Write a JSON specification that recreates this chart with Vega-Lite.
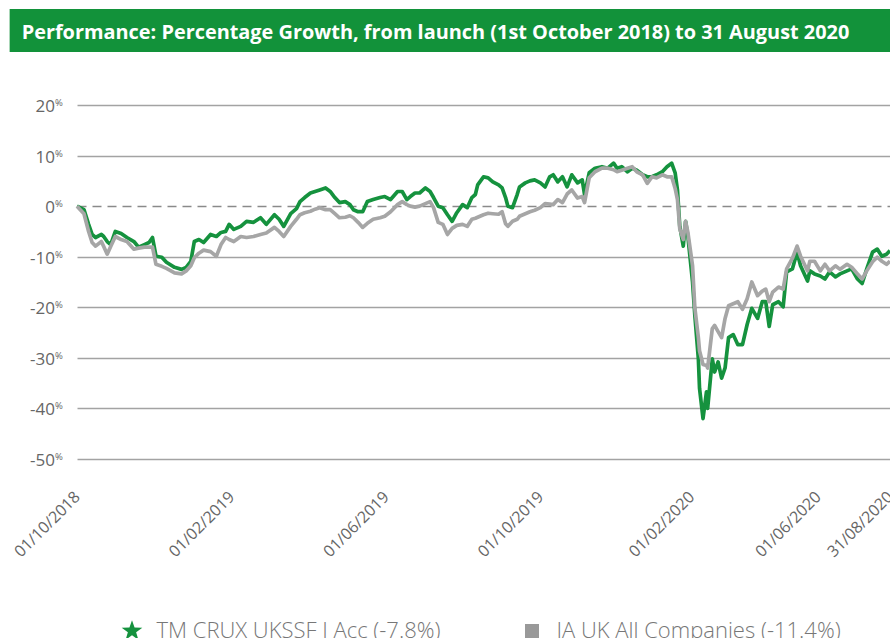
{
  "$schema": "https://vega.github.io/schema/vega-lite/v6.json",
  "width": 813,
  "height": 354,
  "autosize": {"type": "none"},
  "padding": {"left": 77, "top": 105, "right": 0, "bottom": 179},
  "background": "white",
  "title": {
    "text": "Performance: Percentage Growth, from launch (1st October 2018) to 31 August 2020",
    "anchor": "start", "frame": "bounds", "orient": "top", "offset": 0,
    "baseline": "alphabetic", "dx": 12, "dy": 50,
    "font": "Open Sans", "fontSize": 19.9, "fontWeight": "bold", "color": "#ffffff"
  },
  "config": {"view": {"stroke": null}, "font": "Open Sans"},
  "data": {
    "format": {"parse": {"d": "date:'%Y-%m-%d'"}},
    "values": [
      {"d":"2018-10-01","tm":0,"ia":0},
      {"d":"2018-10-07","tm":-0.7,"ia":-1.5},
      {"d":"2018-10-11","tm":-3.6,"ia":-5},
      {"d":"2018-10-14","tm":-5.6,"ia":-7.2},
      {"d":"2018-10-17","tm":-6.2,"ia":-7.9},
      {"d":"2018-10-22","tm":-5.6,"ia":-7},
      {"d":"2018-10-24","tm":-6,"ia":-8},
      {"d":"2018-10-27","tm":-7,"ia":-9.5},
      {"d":"2018-10-30","tm":-7.6,"ia":-8},
      {"d":"2018-11-03","tm":-5,"ia":-6},
      {"d":"2018-11-08","tm":-5.4,"ia":-6.6},
      {"d":"2018-11-13","tm":-6.2,"ia":-7},
      {"d":"2018-11-19","tm":-7,"ia":-8.5},
      {"d":"2018-11-23","tm":-8.1,"ia":-8.3},
      {"d":"2018-11-28","tm":-7.6,"ia":-8.1},
      {"d":"2018-12-02","tm":-7.2,"ia":-8.1},
      {"d":"2018-12-05","tm":-6.2,"ia":-8.1},
      {"d":"2018-12-08","tm":-9.9,"ia":-11.5},
      {"d":"2018-12-13","tm":-10.1,"ia":-11.9},
      {"d":"2018-12-17","tm":-11.1,"ia":-12.3},
      {"d":"2018-12-24","tm":-12.1,"ia":-13.2},
      {"d":"2018-12-30","tm":-12.5,"ia":-13.4},
      {"d":"2019-01-03","tm":-12.1,"ia":-12.8},
      {"d":"2019-01-07","tm":-10.9,"ia":-11.8},
      {"d":"2019-01-10","tm":-7,"ia":-10.2},
      {"d":"2019-01-14","tm":-6.6,"ia":-9.3},
      {"d":"2019-01-18","tm":-7.2,"ia":-8.7},
      {"d":"2019-01-24","tm":-5.6,"ia":-9},
      {"d":"2019-01-29","tm":-6,"ia":-9.9},
      {"d":"2019-02-02","tm":-5.2,"ia":-7.6},
      {"d":"2019-02-06","tm":-5,"ia":-6.2},
      {"d":"2019-02-09","tm":-3.6,"ia":-6.6},
      {"d":"2019-02-13","tm":-4.6,"ia":-7},
      {"d":"2019-02-19","tm":-4,"ia":-6},
      {"d":"2019-02-24","tm":-3,"ia":-6.2},
      {"d":"2019-03-02","tm":-3.2,"ia":-6},
      {"d":"2019-03-08","tm":-2.3,"ia":-5.6},
      {"d":"2019-03-13","tm":-3.6,"ia":-5.3},
      {"d":"2019-03-20","tm":-1.7,"ia":-4.2},
      {"d":"2019-03-24","tm":-2.6,"ia":-5},
      {"d":"2019-03-28","tm":-4,"ia":-6},
      {"d":"2019-04-03","tm":-1.5,"ia":-4},
      {"d":"2019-04-08","tm":-0.5,"ia":-2.6},
      {"d":"2019-04-11","tm":0.9,"ia":-1.7},
      {"d":"2019-04-15","tm":1.7,"ia":-1.3},
      {"d":"2019-04-20","tm":2.6,"ia":-1},
      {"d":"2019-04-24","tm":2.9,"ia":-0.6},
      {"d":"2019-04-28","tm":3.2,"ia":-0.3},
      {"d":"2019-05-03","tm":3.6,"ia":-0.7},
      {"d":"2019-05-07","tm":2.9,"ia":-0.7},
      {"d":"2019-05-11","tm":1.7,"ia":-1.5},
      {"d":"2019-05-15","tm":0.7,"ia":-2.3},
      {"d":"2019-05-20","tm":0.9,"ia":-2.2},
      {"d":"2019-05-24","tm":0.3,"ia":-1.9},
      {"d":"2019-05-27","tm":-0.7,"ia":-2.3},
      {"d":"2019-05-31","tm":-1.1,"ia":-3.2},
      {"d":"2019-06-04","tm":-1.1,"ia":-4.2},
      {"d":"2019-06-08","tm":0.9,"ia":-3.4},
      {"d":"2019-06-13","tm":1.3,"ia":-2.6},
      {"d":"2019-06-19","tm":1.7,"ia":-2.3},
      {"d":"2019-06-23","tm":1.9,"ia":-2},
      {"d":"2019-06-28","tm":1.3,"ia":-1.1},
      {"d":"2019-07-04","tm":2.9,"ia":0.3},
      {"d":"2019-07-08","tm":2.9,"ia":0.9},
      {"d":"2019-07-12","tm":1.3,"ia":0.3},
      {"d":"2019-07-15","tm":1.9,"ia":0},
      {"d":"2019-07-19","tm":2.6,"ia":-0.2},
      {"d":"2019-07-23","tm":2.6,"ia":0},
      {"d":"2019-07-28","tm":3.6,"ia":0.5},
      {"d":"2019-08-01","tm":2.9,"ia":0.9},
      {"d":"2019-08-04","tm":1.7,"ia":-0.3},
      {"d":"2019-08-08","tm":0,"ia":-3.2},
      {"d":"2019-08-12","tm":-0.3,"ia":-3.6},
      {"d":"2019-08-16","tm":-1.7,"ia":-5.6},
      {"d":"2019-08-20","tm":-3,"ia":-4.4},
      {"d":"2019-08-24","tm":-1.3,"ia":-3.8},
      {"d":"2019-08-29","tm":0.3,"ia":-3.6},
      {"d":"2019-09-02","tm":-0.3,"ia":-4},
      {"d":"2019-09-06","tm":1.7,"ia":-2.6},
      {"d":"2019-09-09","tm":2.3,"ia":-2.4},
      {"d":"2019-09-11","tm":4.2,"ia":-2.2},
      {"d":"2019-09-16","tm":5.8,"ia":-1.7},
      {"d":"2019-09-20","tm":5.6,"ia":-1.4},
      {"d":"2019-09-24","tm":4.8,"ia":-1.5},
      {"d":"2019-09-29","tm":4.2,"ia":-1.6},
      {"d":"2019-10-02","tm":3.6,"ia":-1.1},
      {"d":"2019-10-05","tm":1.7,"ia":-3.5},
      {"d":"2019-10-07","tm":0,"ia":-4},
      {"d":"2019-10-11","tm":-0.3,"ia":-3},
      {"d":"2019-10-15","tm":2.3,"ia":-2.6},
      {"d":"2019-10-17","tm":3.8,"ia":-2},
      {"d":"2019-10-22","tm":4.6,"ia":-1.5},
      {"d":"2019-10-26","tm":5,"ia":-1.1},
      {"d":"2019-10-30","tm":5.2,"ia":-0.8},
      {"d":"2019-11-04","tm":4.6,"ia":-0.3},
      {"d":"2019-11-08","tm":3.8,"ia":0.5},
      {"d":"2019-11-12","tm":5.8,"ia":0.4},
      {"d":"2019-11-15","tm":6.2,"ia":0.3},
      {"d":"2019-11-19","tm":4.8,"ia":1.3},
      {"d":"2019-11-23","tm":5.8,"ia":0.7},
      {"d":"2019-11-27","tm":3.8,"ia":2.4},
      {"d":"2019-12-01","tm":6.2,"ia":3.2},
      {"d":"2019-12-06","tm":4.6,"ia":1.6},
      {"d":"2019-12-10","tm":5.2,"ia":1.9},
      {"d":"2019-12-12","tm":2.3,"ia":0.7},
      {"d":"2019-12-16","tm":6.6,"ia":5.6},
      {"d":"2019-12-21","tm":7.5,"ia":6.8},
      {"d":"2019-12-27","tm":7.8,"ia":7.5},
      {"d":"2020-01-01","tm":7.5,"ia":7.5},
      {"d":"2020-01-06","tm":8.5,"ia":7.2},
      {"d":"2020-01-09","tm":7.5,"ia":6.8},
      {"d":"2020-01-13","tm":7.8,"ia":7.1},
      {"d":"2020-01-18","tm":6.8,"ia":7.5},
      {"d":"2020-01-22","tm":7.5,"ia":7.8},
      {"d":"2020-01-26","tm":7.1,"ia":6.8},
      {"d":"2020-01-31","tm":6.2,"ia":6.2},
      {"d":"2020-02-04","tm":5.8,"ia":4.5},
      {"d":"2020-02-08","tm":5.8,"ia":5.8},
      {"d":"2020-02-12","tm":6.2,"ia":5.6},
      {"d":"2020-02-17","tm":6.8,"ia":6.2},
      {"d":"2020-02-21","tm":7.8,"ia":5.8},
      {"d":"2020-02-25","tm":8.5,"ia":5.8},
      {"d":"2020-02-28","tm":6.6,"ia":3.5},
      {"d":"2020-03-01","tm":3.2,"ia":1.3},
      {"d":"2020-03-03","tm":-4,"ia":-4.5},
      {"d":"2020-03-06","tm":-7.9,"ia":-6.6},
      {"d":"2020-03-08","tm":-3,"ia":-3},
      {"d":"2020-03-10","tm":-6,"ia":-5.2},
      {"d":"2020-03-14","tm":-15,"ia":-11.8},
      {"d":"2020-03-16","tm":-21.7,"ia":-20.2},
      {"d":"2020-03-19","tm":-30.2,"ia":-26},
      {"d":"2020-03-20","tm":-36,"ia":-28.6},
      {"d":"2020-03-23","tm":-42,"ia":-31.3},
      {"d":"2020-03-26","tm":-36.7,"ia":-31.5},
      {"d":"2020-03-27","tm":-40,"ia":-32},
      {"d":"2020-03-31","tm":-30.2,"ia":-24.2},
      {"d":"2020-04-02","tm":-32.8,"ia":-23.6},
      {"d":"2020-04-05","tm":-30.8,"ia":-24.8},
      {"d":"2020-04-08","tm":-34,"ia":-26},
      {"d":"2020-04-11","tm":-32,"ia":-22.2},
      {"d":"2020-04-14","tm":-26,"ia":-19.7},
      {"d":"2020-04-18","tm":-25.4,"ia":-19.3},
      {"d":"2020-04-22","tm":-27.4,"ia":-18.9},
      {"d":"2020-04-26","tm":-27.4,"ia":-20.4},
      {"d":"2020-04-30","tm":-23.4,"ia":-18.3},
      {"d":"2020-05-04","tm":-20.2,"ia":-15},
      {"d":"2020-05-09","tm":-22.2,"ia":-17.7},
      {"d":"2020-05-13","tm":-18.9,"ia":-16.8},
      {"d":"2020-05-16","tm":-18.9,"ia":-16.4},
      {"d":"2020-05-19","tm":-23.8,"ia":-18.9},
      {"d":"2020-05-22","tm":-19.5,"ia":-17},
      {"d":"2020-05-27","tm":-18.9,"ia":-16},
      {"d":"2020-05-31","tm":-19.9,"ia":-16.4},
      {"d":"2020-06-03","tm":-13,"ia":-12.4},
      {"d":"2020-06-08","tm":-12.4,"ia":-10.3},
      {"d":"2020-06-12","tm":-9.1,"ia":-7.9},
      {"d":"2020-06-15","tm":-11.8,"ia":-9.9},
      {"d":"2020-06-21","tm":-14.8,"ia":-12.8},
      {"d":"2020-06-23","tm":-12.8,"ia":-10.9},
      {"d":"2020-06-27","tm":-13.4,"ia":-10.9},
      {"d":"2020-07-02","tm":-13.8,"ia":-12.8},
      {"d":"2020-07-06","tm":-14.4,"ia":-11.5},
      {"d":"2020-07-10","tm":-13,"ia":-12.8},
      {"d":"2020-07-15","tm":-14,"ia":-11.8},
      {"d":"2020-07-19","tm":-13.4,"ia":-12.5},
      {"d":"2020-07-25","tm":-12.8,"ia":-11.5},
      {"d":"2020-07-29","tm":-12.4,"ia":-12.1},
      {"d":"2020-08-03","tm":-14.4,"ia":-13.4},
      {"d":"2020-08-07","tm":-15.3,"ia":-14.4},
      {"d":"2020-08-11","tm":-12.4,"ia":-12.8},
      {"d":"2020-08-16","tm":-9.1,"ia":-11},
      {"d":"2020-08-20","tm":-8.5,"ia":-10.1},
      {"d":"2020-08-24","tm":-9.9,"ia":-10.9},
      {"d":"2020-08-28","tm":-9.5,"ia":-11.5},
      {"d":"2020-08-31","tm":-8.8,"ia":-10.9}
    ]
  },
  "resolve": {"axis": {"x": "independent", "y": "independent"}},
  "layer": [
    {
      "data": {"values": [{}]},
      "mark": {"type": "rect", "color": "#12923a"},
      "encoding": {
        "x": {"datum": {"year": 2018, "month": 8, "date": 4}, "type": "temporal", "axis": null},
        "x2": {"datum": {"year": 2020, "month": 9, "date": 20}},
        "y": {"datum": 38.98, "type": "quantitative", "axis": null},
        "y2": {"datum": 30.48}
      }
    },
    {
      "mark": {"type": "line", "strokeWidth": 3.7, "strokeJoin": "round", "color": "#15923e"},
      "encoding": {
        "x": {
          "field": "d", "type": "temporal",
          "scale": {"domain": [{"year": 2018, "month": 10, "date": 1}, {"year": 2020, "month": 8, "date": 31}]},
          "axis": {
            "values": [
              {"year": 2018, "month": 10, "date": 1},
              {"year": 2019, "month": 2, "date": 11},
              {"year": 2019, "month": 6, "date": 24},
              {"year": 2019, "month": 11, "date": 4},
              {"year": 2020, "month": 3, "date": 13},
              {"year": 2020, "month": 6, "date": 30},
              {"year": 2020, "month": 8, "date": 31}
            ],
            "labelExpr": "{'2018-10':'01/10/2018','2019-02':'01/02/2019','2019-06':'01/06/2019','2019-11':'01/10/2019','2020-03':'01/02/2020','2020-06':'01/06/2020','2020-08':'31/08/2020'}[timeFormat(datum.value,'%Y-%m')]",
            "labelAngle": -45, "labelAlign": "right", "labelBaseline": "middle",
            "labelPadding": 35, "labelFontSize": 16, "labelColor": "#666666", "labelFont": "Open Sans",
            "labelFlush": false, "labelOverlap": false, "labelBound": false, "labelLimit": 300,
            "domain": false, "ticks": false, "grid": false, "title": null
          }
        },
        "y": {
          "field": "tm", "type": "quantitative",
          "scale": {"domain": [-50, 20], "nice": false, "zero": false},
          "axis": {
            "orient": "left",
            "values": [-50, -40, -30, -20, -10, 0, 10, 20],
            "labelExpr": "'' + datum.value",
            "labelAlign": "right", "labelBaseline": "alphabetic", "labelOffset": 6.5,
            "labelPadding": 22.5, "labelFontSize": 17, "labelColor": "#666666", "labelFont": "Open Sans",
            "labelFlush": false, "labelOverlap": false,
            "domain": false, "ticks": false, "title": null,
            "grid": true, "gridWidth": 1.3,
            "gridColor": {"condition": {"test": "datum.value === 0", "value": "#8a8a8a"}, "value": "#a3a3a3"},
            "gridDash": {"condition": {"test": "datum.value === 0", "value": [9, 6]}, "value": []}
          }
        }
      }
    },
    {
      "mark": {"type": "line", "strokeWidth": 3.7, "strokeJoin": "round", "color": "#a6a6a6"},
      "encoding": {
        "x": {"field": "d", "type": "temporal", "axis": null},
        "y": {"field": "ia", "type": "quantitative", "axis": null}
      }
    },
    {
      "transform": [{"fold": ["tm", "ia"], "as": ["s", "v"]}],
      "mark": {"type": "point", "filled": true, "opacity": 0},
      "encoding": {
        "x": {"field": "d", "type": "temporal", "axis": null},
        "y": {
          "field": "v", "type": "quantitative",
          "axis": {
            "orient": "left",
            "values": [-50, -40, -30, -20, -10, 0, 10, 20],
            "labelExpr": "'%'",
            "labelAlign": "left", "labelBaseline": "alphabetic", "labelOffset": 0.5,
            "labelPadding": 22.5, "labelFontSize": 9.5, "labelColor": "#666666", "labelFont": "Open Sans",
            "labelFlush": false, "labelOverlap": false,
            "domain": false, "ticks": false, "grid": false, "title": null
          }
        },
        "color": {
          "field": "s", "type": "nominal",
          "scale": {"domain": ["tm", "ia"], "range": ["#15923e", "#999999"]},
          "legend": {
            "orient": "none", "legendX": 44, "legendY": 515, "direction": "horizontal",
            "title": null, "padding": 0,
            "labelExpr": "datum.value === 'tm' ? 'TM CRUX UKSSF I Acc (-7.8%)' : 'IA UK All Companies (-11.4%)'",
            "labelFont": "Open Sans", "labelFontSize": 22, "labelFontWeight": 300, "labelColor": "#777777",
            "labelLimit": 400, "labelOffset": 13.5, "columnPadding": 80,
            "symbolSize": 196, "symbolOpacity": 1, "symbolStrokeWidth": 0
          }
        },
        "shape": {
          "field": "s", "type": "nominal",
          "scale": {"domain": ["tm", "ia"], "range": ["M0,-1.55L0.364,-0.502L1.474,-0.479L0.59,0.192L0.911,1.254L0,0.62L-0.911,1.254L-0.59,0.192L-1.474,-0.479L-0.364,-0.502Z", "square"]},
          "legend": {
            "orient": "none", "legendX": 44, "legendY": 515, "direction": "horizontal",
            "title": null, "padding": 0,
            "labelExpr": "datum.value === 'tm' ? 'TM CRUX UKSSF I Acc (-7.8%)' : 'IA UK All Companies (-11.4%)'",
            "labelFont": "Open Sans", "labelFontSize": 22, "labelFontWeight": 300, "labelColor": "#777777",
            "labelLimit": 400, "labelOffset": 13.5, "columnPadding": 80,
            "symbolSize": 196, "symbolOpacity": 1, "symbolStrokeWidth": 0
          }
        }
      }
    }
  ]
}
